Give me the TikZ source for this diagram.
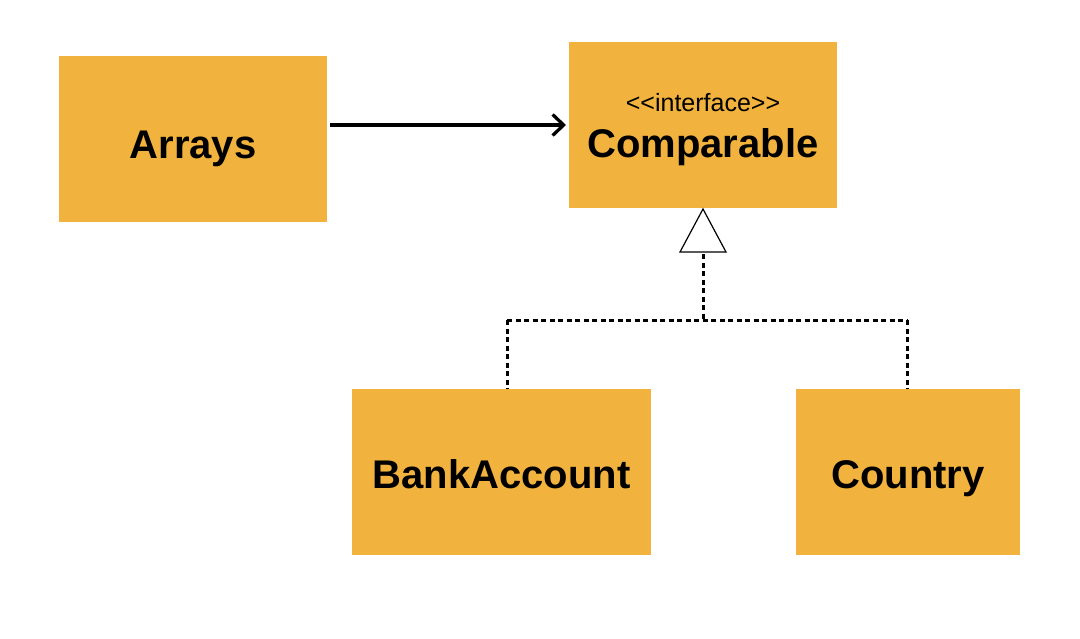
\documentclass[tikz,border=0pt]{standalone}
\usepackage{fontspec}
\setmainfont{Liberation Sans}
\usetikzlibrary{arrows.meta}
\definecolor{boxfill}{HTML}{F2B23E}
\begin{document}
\begin{tikzpicture}[x=1pt,y=-1pt,
  cls/.style={fill=boxfill,draw=none,inner sep=0pt,anchor=north west},
  lbl/.style={font=\fontsize{40}{44}\selectfont\bfseries,anchor=base},
  dotline/.style={line width=3pt,dash pattern=on 5pt off 3.5pt}]
\useasboundingbox[fill=white] (0,0) rectangle (1080,638);
\node[cls,minimum width=268pt,minimum height=166pt] (arrays) at (59,56) {};
\node[cls,minimum width=268pt,minimum height=166pt] (comp) at (569,42) {};
\node[cls,minimum width=299pt,minimum height=166pt] (bank) at (352,389) {};
\node[cls,minimum width=224pt,minimum height=166pt] (country) at (796,389) {};
\node[lbl] (tarrays) at (193,158) {Arrays};
\node[lbl] (tcomp) at (703,157) {Comparable};
\node[font=\fontsize{25}{28}\selectfont,anchor=base] (tint) at (703,111) {<{}<interface>{}>};
\node[lbl] (tbank) at (501.5,488) {BankAccount};
\node[lbl] (tcountry) at (908,488) {Country};
% association
\coordinate (a1) at ([xshift=3pt]arrays.east |- 0,125);
\coordinate (a2) at ([xshift=-3pt]comp.west |- 0,125);
\draw[line width=3.3pt,-{Straight Barb[length=11pt,width=21pt,line width=3.3pt]}] (a1) -- (a2);
% realization
\coordinate (apex) at (703,209);
\coordinate (tl) at (680,252);
\coordinate (tr) at (726,252);
\draw[line width=1.2pt,fill=white] (apex) -- (tl) -- (tr) -- cycle;
\coordinate (j) at (703,320);
\coordinate (jl) at (507,320);
\coordinate (jr) at (907,320);
\draw[dotline] (703,254) -- (j);
\draw[dotline] (jl) -- (jr);
\draw[dotline] (jl) -- (bank.north -| jl);
\draw[dotline] (jr) -- (country.north -| jr);
\end{tikzpicture}
\end{document}
